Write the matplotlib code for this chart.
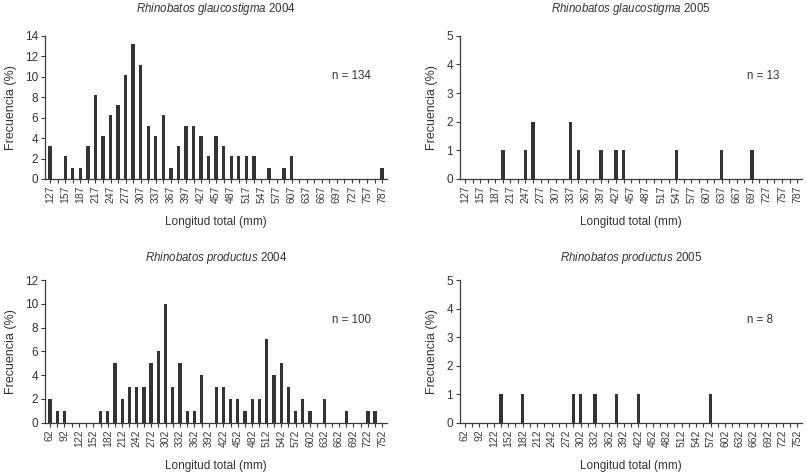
import matplotlib
matplotlib.use("Agg")
import matplotlib.pyplot as plt
import numpy as np

plt.rcParams['font.family'] = ['Liberation Sans', 'DejaVu Sans']
plt.rcParams['mathtext.fontset'] = 'custom'
plt.rcParams['mathtext.it'] = 'Liberation Sans:italic'
plt.rcParams['mathtext.rm'] = 'Liberation Sans'

# Clases de longitud total (mm)
glauco_bins = list(range(127, 788, 15))
productus_bins = list(range(62, 753, 15))

# Frecuencias
glauco_2004 = [3.2, 0, 2.2, 1.1, 1.1, 3.2, 8.2, 4.2, 6.3, 7.2, 10.2, 13.2, 11.1, 5.2, 4.2,
               6.3, 1.1, 3.2, 5.2, 5.2, 4.2, 2.2, 4.2, 3.2, 2.2, 2.2, 2.2, 2.2, 0, 1.1,
               0, 1.1, 2.2, 0, 0, 0, 0, 0, 0, 0, 0, 0, 0, 0, 1.1]
glauco_2005 = [0, 0, 0, 0, 0, 1, 0, 0, 1, 2, 0, 0, 0, 0, 2,
               1, 0, 0, 1, 0, 1, 1, 0, 0, 0, 0, 0, 0, 1, 0,
               0, 0, 0, 0, 1, 0, 0, 0, 1, 0, 0, 0, 0, 0, 0]
productus_2004 = [2, 1, 1, 0, 0, 0, 0, 1, 1, 5, 2, 3, 3, 3, 5, 6,
                  10, 3, 5, 1, 1, 4, 0, 3, 3, 2, 2, 1, 2, 2, 7, 4,
                  5, 3, 1, 2, 1, 0, 2, 0, 0, 1, 0, 0, 1, 1, 0]
productus_2005 = [0, 0, 0, 0, 0, 1, 0, 0, 1, 0, 0, 0, 0, 0, 0, 1,
                  1, 0, 1, 0, 0, 1, 0, 0, 1, 0, 0, 0, 0, 0, 0, 0,
                  0, 0, 1, 0, 0, 0, 0, 0, 0, 0, 0, 0, 0, 0, 0]

panels = [
    ('Rhinobatos\\ glaucostigma', '2004', glauco_bins, glauco_2004, 14, 2, 'n = 134'),
    ('Rhinobatos\\ glaucostigma', '2005', glauco_bins, glauco_2005, 5, 1, 'n = 13'),
    ('Rhinobatos\\ productus', '2004', productus_bins, productus_2004, 12, 2, 'n = 100'),
    ('Rhinobatos\\ productus', '2005', productus_bins, productus_2005, 5, 1, 'n = 8'),
]

positions = [
    [0.0558, 0.6216, 0.4238, 0.3029],
    [0.5700, 0.6216, 0.4238, 0.3029],
    [0.0558, 0.1063, 0.4238, 0.3017],
    [0.5700, 0.1063, 0.4238, 0.3017],
]
title_pads = [17, 17, 14, 14]

bar_color = '#333333'
axis_color = '#3a3a3a'
text_color = '#333333'

fig = plt.figure(figsize=(8.07, 4.73), dpi=100)

for pos, tpad, (species, year, bins, values, ymax, ystep, ntext) in zip(positions, title_pads, panels):
    ax = fig.add_axes(pos)
    x = np.arange(len(bins))
    ax.bar(x, values, width=0.45, color=bar_color, linewidth=0)
    ax.set_xlim(-0.68, len(bins) - 0.35)
    ax.set_ylim(0, ymax)
    ax.set_yticks(np.arange(0, ymax + 0.1, ystep))
    ax.set_xticks(x)
    ax.set_xticklabels([str(b) if i % 2 == 0 else '' for i, b in enumerate(bins)],
                       rotation=90, fontsize=7.5, color=text_color)
    ax.tick_params(axis='y', labelsize=8.5, colors=axis_color, labelcolor=text_color,
                   length=3, width=0.8, pad=2)
    ax.tick_params(axis='x', colors=axis_color, length=3, width=0.8, pad=2)
    for side in ['top', 'right']:
        ax.spines[side].set_visible(False)
    for side in ['left', 'bottom']:
        ax.spines[side].set_color(axis_color)
        ax.spines[side].set_linewidth(0.9)
    ax.set_ylabel('Frecuencia (%)', fontsize=9, color=text_color, labelpad=6)
    ax.set_xlabel('Longitud total (mm)', fontsize=8.5, color=text_color, labelpad=9)
    ax.set_title(r'$\it{' + species + '}$ ' + year, fontsize=8.3, color=text_color, pad=tpad)
    ax.text(0.84, 0.72, ntext, transform=ax.transAxes, fontsize=8.3, color=text_color,
            ha='left', va='center')

fig.savefig('out.png', dpi=100)
